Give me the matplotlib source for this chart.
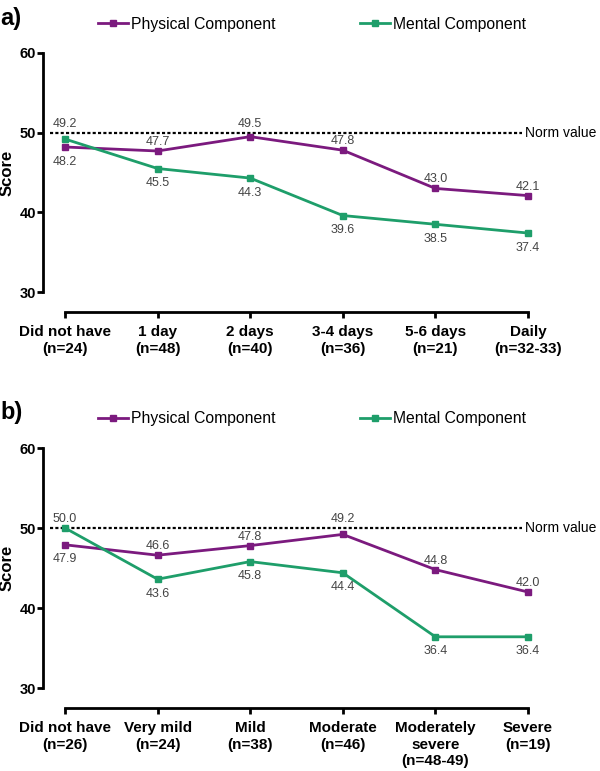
import matplotlib.pyplot as plt

# Data
labels_a = ['Did not have\n(n=24)', '1 day\n(n=48)', '2 days\n(n=40)',
            '3-4 days\n(n=36)', '5-6 days\n(n=21)', 'Daily\n(n=32-33)']
physical_a = [48.2, 47.7, 49.5, 47.8, 43.0, 42.1]
mental_a = [49.2, 45.5, 44.3, 39.6, 38.5, 37.4]
# value label placement: True = above the point
phys_above_a = [False, True, True, True, True, True]
ment_above_a = [True, False, False, False, False, False]

labels_b = ['Did not have\n(n=26)', 'Very mild\n(n=24)', 'Mild\n(n=38)',
            'Moderate\n(n=46)', 'Moderately\nsevere\n(n=48-49)', 'Severe\n(n=19)']
physical_b = [47.9, 46.6, 47.8, 49.2, 44.8, 42.0]
mental_b = [50.0, 43.6, 45.8, 44.4, 36.4, 36.4]
phys_above_b = [False, True, True, True, True, True]
ment_above_b = [True, False, False, False, False, False]

norm_value = 50

purple = '#7B1A7E'
green = '#1E9E6A'

plt.rcParams['font.family'] = ['Liberation Sans', 'DejaVu Sans']

fig = plt.figure(figsize=(6.0, 7.71), dpi=100)
W, H = 600, 771


def px_axes(left, top, right, bottom):
    return fig.add_axes([left / W, 1 - bottom / H, (right - left) / W, (bottom - top) / H])


def draw_panel(ax, letter, labels, phys, ment, phys_above, ment_above, top_px):
    x = list(range(len(labels)))

    # axis styling first (spine repositioning resets tick labels)
    ax.spines['top'].set_visible(False)
    ax.spines['right'].set_visible(False)
    ax.spines['left'].set_linewidth(2)
    ax.spines['bottom'].set_linewidth(2)
    ax.spines['bottom'].set_position(('outward', 14.5))
    ax.spines['bottom'].set_bounds(0, 5)
    ax.set_xlim(-0.2376, 5.13)
    ax.set_ylim(30, 60)
    ax.tick_params(axis='y', direction='out', length=4, width=2, pad=1, labelsize=10.5)
    ax.tick_params(axis='x', direction='out', length=4.5, width=2, pad=5, labelsize=11)

    ax.plot(x, phys, color=purple, lw=2, marker='s', ms=5, label='Physical Component',
            clip_on=False, zorder=3)
    ax.plot(x, ment, color=green, lw=2, marker='s', ms=5, label='Mental Component',
            clip_on=False, zorder=3)
    ax.plot([-0.162, 4.94], [norm_value, norm_value], color='black', lw=1.6,
            ls=(0, (1.4, 1.0)), zorder=2)
    ax.text(4.97, norm_value, 'Norm value', fontsize=10, va='center', ha='left')

    for vals, above in ((phys, phys_above), (ment, ment_above)):
        for xi, v, up in zip(x, vals, above):
            # labels just under the norm line are lifted above it
            anchor = norm_value if (up and norm_value - 1 < v < norm_value) else v
            ax.annotate(f'{v:.1f}', (xi, anchor), xytext=(0, 6.5 if up else -10.5),
                        textcoords='offset points', ha='center', va='center',
                        fontsize=9, color='#444444')

    ax.set_yticks([30, 40, 50, 60])
    ax.set_xticks(x)
    ax.set_xticklabels(labels, linespacing=1.2)
    for t in ax.get_xticklabels() + ax.get_yticklabels():
        t.set_fontweight('bold')
    ax.set_ylabel('Score', fontweight='bold', fontsize=12)
    ax.yaxis.set_label_coords(-0.058, 0.5)

    fig.text(0, 1 - (top_px - 35) / H, letter, fontsize=17, fontweight='bold',
             ha='left', va='center')
    fig.legend(handles=ax.get_lines()[:2], loc='center left',
               bbox_to_anchor=(98 / W, 1 - (top_px - 29) / H), ncol=2, frameon=False,
               fontsize=11.3, handlelength=1.9, handletextpad=0.2, columnspacing=5.4,
               borderpad=0, borderaxespad=0, markerscale=0.8)


ax1 = px_axes(43, 53, 540, 292)
draw_panel(ax1, 'a)', labels_a, physical_a, mental_a, phys_above_a, ment_above_a, 53)

ax2 = px_axes(43, 448, 540, 688)
draw_panel(ax2, 'b)', labels_b, physical_b, mental_b, phys_above_b, ment_above_b, 448)

fig.savefig('out.png', dpi=100)
